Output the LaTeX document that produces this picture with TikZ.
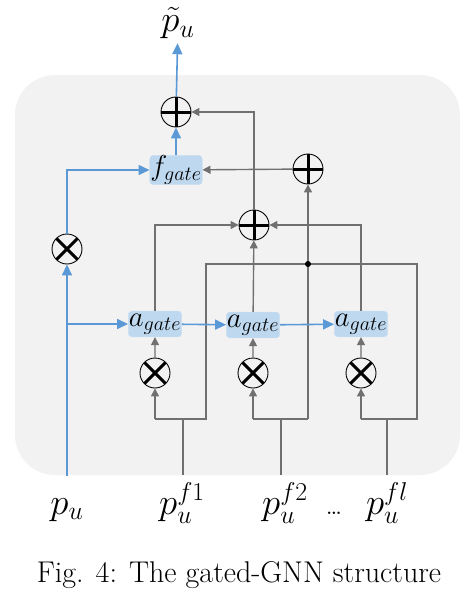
\documentclass[tikz,border=0pt]{standalone}
\usepackage{fix-cm}
\usepackage{amsmath,amssymb}
\usetikzlibrary{positioning, calc, arrows.meta}
\definecolor{gateBlue}{RGB}{91, 152, 214}
\definecolor{gateFill}{RGB}{190, 216, 239}
\definecolor{wireGray}{RGB}{112, 112, 112}
\definecolor{panelGray}{RGB}{242, 242, 242}
\tikzset{
  gatebox/.style={rectangle, fill=gateFill, draw=gateFill!80!white,
                  minimum width=40pt, minimum height=21.5pt, inner sep=0.5pt,
                  rounded corners=3.5pt, scale=1.2, font=\fontsize{24}{26}\selectfont},
  sumop/.style={circle, draw=black, line width=0.9pt, minimum size=30pt,
                inner sep=0pt, fill=panelGray,
                path picture={\draw[line width=3pt, black]
                  (path picture bounding box.north) -- (path picture bounding box.south)
                  (path picture bounding box.west) -- (path picture bounding box.east);}},
  mulop/.style={circle, draw=black, line width=0.9pt, minimum size=30pt,
                inner sep=0pt, fill=panelGray,
                path picture={\draw[line width=3pt, black]
                  (path picture bounding box.north west) -- (path picture bounding box.south east)
                  (path picture bounding box.south west) -- (path picture bounding box.north east);}},
  inlabel/.style={anchor=base, scale=1.15, font=\fontsize{32}{34}\selectfont},
}

\begin{document}
\begin{tikzpicture}[
    x=1pt, y=-1pt,
    wire/.style={draw=wireGray, line width=1.4pt},
    arrow/.style={wire, -{Triangle[length=8pt, width=8pt]}},
    blueline/.style={draw=gateBlue, line width=1.6pt},
    bluearrow/.style={blueline, -{Triangle[length=11pt, width=10pt]}},
  ]
    \useasboundingbox (0,0) rectangle (476,594);

    % panel
    \fill[panelGray, rounded corners=40pt] (15,75) rectangle (460,475);

    % output side
    \node[inlabel] (ptu) at (178,32) {$\tilde{p}_u$};
    \node[sumop] (S1) at (176,112) {};
    \node[gatebox] (fg) at (176,170) {$f_{gate}$};
    \node[sumop] (S2) at (308,169) {};
    \node[sumop] (S3) at (254,225) {};
    \node[mulop] (M0) at (67,249) {};

    % gates and products
    \node[gatebox] (A1) at (155,324) {$a_{gate}$};
    \node[gatebox] (A2) at (253,325) {$a_{gate}$};
    \node[gatebox] (A3) at (361,324) {$a_{gate}$};
    \node[mulop] (M1) at (155,373) {};
    \node[mulop] (M2) at (253,373) {};
    \node[mulop] (M3) at (361,373) {};

    % inputs
    \node[inlabel] (pu)  at (67,514)  {$p_u$};
    \node[inlabel] (pf1) at (182,514) {$p_u^{f1}$};
    \node[inlabel] (pf2) at (285,514) {$p_u^{f2}$};
    \node[anchor=base, scale=1.8, font=\fontsize{14}{16}\selectfont] (dots) at (334,514) {\ldots};
    \node[inlabel] (pfl) at (387,514) {$p_u^{fl}$};

    \coordinate (in0) at (67,476);
    \coordinate (br0) at (67,324);
    \coordinate (in1) at (183,475);
    \coordinate (in2) at (281,475);
    \coordinate (in3) at (387,475);
    \coordinate (j1) at (183,419);
    \coordinate (j2) at (281,419);
    \coordinate (j3) at (387,419);
    \coordinate (b1l) at (155,419);
    \coordinate (b1r) at (206,419);
    \coordinate (b2l) at (253,419);
    \coordinate (b2r) at (308,419);
    \coordinate (b3l) at (361,419);
    \coordinate (b3r) at (417,419);
    \coordinate (hub) at (308,264);

    % feature wires
    \draw[wire] (in1) -- (j1);
    \draw[wire] (in2) -- (j2);
    \draw[wire] (in3) -- (j3);
    \draw[wire] (b1l) -- (b1r) |- (hub) -| (b3r) -- (b3l);
    \draw[wire] (b2l) -- (b2r);
    \draw[arrow] (b1l) -- (M1);
    \draw[arrow] (b2l) -- (M2);
    \draw[arrow] (b3l) -- (M3);
    \draw[arrow] (b2r) -- (S2);
    \fill (hub) circle (3pt);

    \draw[arrow] (M1) -- (A1);
    \draw[arrow] (M2) -- (A2);
    \draw[arrow] (M3) -- (A3);
    \draw[arrow] (A1) |- (S3);
    \draw[arrow] (A2) -- (S3);
    \draw[arrow] (A3) |- (S3);
    \draw[arrow] (S3) |- (S1);
    \draw[arrow] (S2) -- (fg);

    % user path
    \draw[bluearrow] (in0) -- (M0);
    \draw[bluearrow] (br0) -- (A1);
    \draw[bluearrow] (M0) |- (fg);
    \draw[bluearrow] (A1) -- (A2);
    \draw[bluearrow] (A2) -- (A3);
    \draw[bluearrow] (fg) -- (S1);
    \draw[bluearrow] (S1) -- (ptu);

    \node[anchor=base, font=\fontsize{30}{36}\selectfont] (cap) at (239,582)
         {Fig. 4: The gated-GNN structure};
  \end{tikzpicture}
\end{document}
